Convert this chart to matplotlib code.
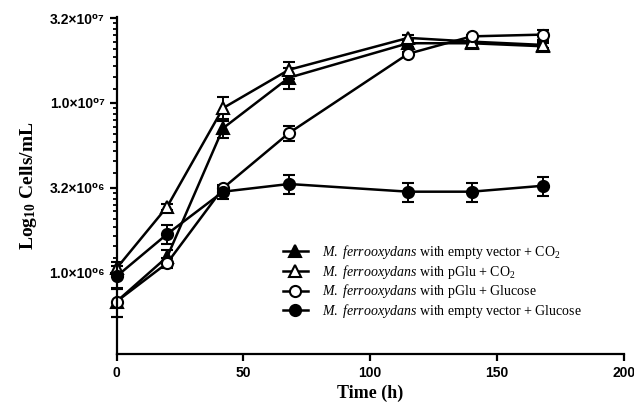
import numpy as np
import matplotlib
matplotlib.use("Agg")
import matplotlib.pyplot as plt
from matplotlib.ticker import FixedLocator, FixedFormatter

plt.rcParams['font.family'] = ['Liberation Serif', 'DejaVu Serif']
plt.rcParams['mathtext.fontset'] = 'custom'
plt.rcParams['mathtext.rm'] = 'Liberation Serif'
plt.rcParams['mathtext.it'] = 'Liberation Serif:italic'
plt.rcParams['mathtext.bf'] = 'Liberation Serif:bold'

# time points (h)
time_h = [0, 20, 42, 68, 115, 140, 168]

# mean cell counts (cells/mL) and SD for each strain/condition
ev_co2 = [6.75e5, 1.24e6, 7.1e6, 1.41e7, 2.25e7, 2.25e7, 2.16e7]
ev_co2_sd = [1.3e5, 1.2e5, 9.0e5, 2.0e6, 1.0e6, 1.0e6, 1.0e6]

pglu_co2 = [1.06e6, 2.45e6, 9.33e6, 1.57e7, 2.42e7, 2.3e7, 2.2e7]
pglu_co2_sd = [1.0e5, 1.0e5, 1.5e6, 1.8e6, 1.0e6, 1.0e6, 1.0e6]

pglu_glc = [6.75e5, 1.14e6, 3.15e6, 6.65e6, 1.95e7, 2.47e7, 2.53e7]
pglu_glc_sd = [1.3e5, 8.0e4, 1.0e5, 6.5e5, 5.0e5, 5.0e5, 1.8e6]

ev_glc = [9.5e5, 1.69e6, 3.0e6, 3.33e6, 3.0e6, 3.0e6, 3.25e6]
ev_glc_sd = [1.4e5, 2.2e5, 3.0e5, 4.3e5, 3.9e5, 3.9e5, 4.2e5]

labels = [
    r'$\mathit{M.\ ferrooxydans}$ with empty vector + CO$_2$',
    r'$\mathit{M.\ ferrooxydans}$ with pGlu + CO$_2$',
    r'$\mathit{M.\ ferrooxydans}$ with pGlu + Glucose',
    r'$\mathit{M.\ ferrooxydans}$ with empty vector + Glucose',
]

y_major = [1e6, 10 ** 6.5, 1e7, 10 ** 7.5]
y_major_labels = ['1.0\u00d710\u2070\u2076', '3.2\u00d710\u2070\u2076',
                  '1.0\u00d710\u2070\u2077', '3.2\u00d710\u2070\u2077']
x_ticks = [0, 50, 100, 150, 200]

fig = plt.figure(figsize=(6.34, 4.07), dpi=100)
ax = fig.add_axes([0.1838, 0.1295, 0.80, 0.828])

series = [
    (ev_co2, ev_co2_sd, '^', 'black'),
    (pglu_co2, pglu_co2_sd, '^', 'white'),
    (pglu_glc, pglu_glc_sd, 'o', 'white'),
    (ev_glc, ev_glc_sd, 'o', 'black'),
]
handles = []
for (vals, sd, mk, face), lab in zip(series, labels):
    cont = ax.errorbar(time_h, vals, yerr=sd, color='black', marker=mk,
                       markerfacecolor=face, markeredgecolor='black', markersize=8,
                       markeredgewidth=1.5, lw=1.8, elinewidth=1.4, capsize=4.5,
                       capthick=1.4, label=lab, clip_on=False)
    handles.append(cont[0])

ax.set_yscale('log')
ax.set_ylim(3.3e5, 3.2e7)
ax.set_xlim(0, 200)

# minor ticks: ten linear steps between each pair of major ticks
minors = []
for a, b in zip(y_major[:-1], y_major[1:]):
    minors += list(np.linspace(a, b, 11)[1:-1])
ax.yaxis.set_major_locator(FixedLocator(y_major))
ax.yaxis.set_major_formatter(FixedFormatter(y_major_labels))
ax.yaxis.set_minor_locator(FixedLocator(minors))
ax.yaxis.set_minor_formatter(FixedFormatter([''] * len(minors)))
ax.set_xticks(x_ticks)

for s in ['top', 'right']:
    ax.spines[s].set_visible(False)
for s in ['left', 'bottom']:
    ax.spines[s].set_linewidth(1.6)

ax.tick_params(which='major', direction='out', length=5, width=1.6)
ax.tick_params(axis='y', which='minor', direction='out', length=3, width=1.3)
for lab in ax.get_xticklabels() + ax.get_yticklabels():
    lab.set_fontfamily(['Liberation Sans', 'DejaVu Sans'])
    lab.set_fontweight('bold')
    lab.set_fontsize(10)

ax.set_xlabel('Time (h)', fontsize=13, fontweight='bold', labelpad=3)
ax.set_ylabel(r'$\mathbf{Log_{10}}$ $\mathbf{Cells/mL}$', fontsize=14, labelpad=7)

leg = ax.legend(handles, labels, loc='upper left', bbox_to_anchor=(0.328, 0.33),
                frameon=False, fontsize=10, borderaxespad=0, borderpad=0,
                handlelength=1.8, handletextpad=1.0, labelspacing=0.12)

fig.savefig('out.png', dpi=100)
